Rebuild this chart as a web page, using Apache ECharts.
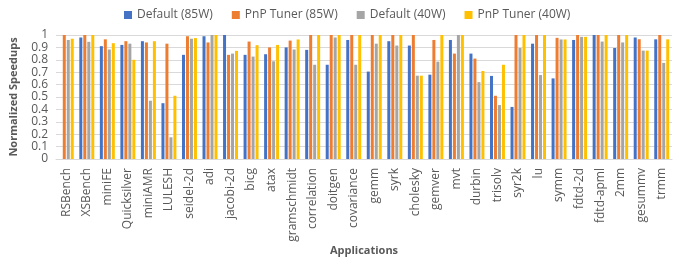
<!DOCTYPE html>
<html>
<head>
<meta charset="utf-8">
<script src="https://cdn.jsdelivr.net/npm/echarts@6/dist/echarts.min.js"></script>
<style>
  html, body { margin: 0; padding: 0; background: #fff; }
  #myChart { width: 689px; height: 261px; }
</style>
</head>
<body>
<div id="myChart"></div>
<script>
var apps = ['RSBench', 'XSBench', 'miniFE', 'Quicksilver', 'miniAMR', 'LULESH', 'seidel-2d', 'adi', 'jacobi-2d', 'bicg',
    'atax', 'gramschmidt', 'correlation', 'doitgen', 'covariance', 'gemm', 'syrk', 'cholesky', 'gemver', 'mvt',
    'durbin', 'trisolv', 'syr2k', 'lu', 'symm', 'fdtd-2d', 'fdtd-apml', '2mm', 'gesummv', 'trmm'];

var default85 = [null, 0.98, 0.91, 0.92, 0.95, 0.45, 0.84, 0.99, 1.0, 0.84,
    0.845, 0.90, 0.88, 0.76, 0.96, 0.705, 0.95, 0.915, 0.68, 0.96,
    0.85, 0.67, 0.42, 0.93, 0.65, 0.96, 1.0, 0.895, 0.98, 0.965];
var tuner85 = [1.0, 1.0, 0.965, 0.95, 0.94, 0.93, 0.99, 0.94, 0.84, 0.947,
    0.90, 0.955, 1.0, 1.0, 1.0, 1.0, 1.0, 1.0, 0.96, 0.85,
    0.81, 0.51, 1.0, 1.0, 0.977, 1.0, 1.0, 1.0, 0.966, 1.0];
var default40 = [0.96, 0.945, 0.883, 0.93, 0.47, 0.175, 0.97, 1.0, 0.85, 0.826,
    0.788, 0.883, 0.76, 0.98, 0.76, 0.93, 0.915, 0.672, 0.785, 1.0,
    0.62, 0.435, 0.895, 0.677, 0.964, 0.985, 0.947, 0.94, 0.874, 0.775];
var tuner40 = [0.97, 1.0, 0.934, 0.80, 0.95, 0.51, 0.975, 1.0, 0.872, 0.918,
    0.92, 0.964, 1.0, 1.0, 1.0, 1.0, 1.0, 0.672, 1.0, 1.0,
    0.71, 0.76, 1.0, 1.0, 0.964, 0.985, 1.0, 1.0, 0.874, 0.965];

var seriesNames = ['Default (85W)', 'PnP Tuner (85W)', 'Default (40W)', 'PnP Tuner (40W)'];
var seriesColors = ['#4472c4', '#ed7d31', '#a5a5a5', '#ffc000'];
var seriesData = [default85, tuner85, default40, tuner40];

var font = 'Open Sans';
var myChart = echarts.init(document.getElementById('myChart'));

var series = [];
for (var i = 0; i < seriesNames.length; i++) {
    series.push({
        name: seriesNames[i],
        type: 'bar',
        barWidth: 3,
        barGap: '33%',
        itemStyle: { color: seriesColors[i] },
        data: seriesData[i]
    });
}

var option = {
    animation: false,
    textStyle: { fontFamily: font },
    legend: {
        top: 4,
        left: 119,
        itemWidth: 8,
        itemHeight: 8,
        itemGap: 19,
        icon: 'rect',
        textStyle: { color: '#595959', fontSize: 12, fontFamily: font },
        data: seriesNames
    },
    grid: {
        left: 55,
        right: 17,
        top: 35,
        bottom: 102
    },
    xAxis: {
        type: 'category',
        data: apps,
        name: 'Applications',
        nameLocation: 'middle',
        nameGap: 86,
        nameTextStyle: { color: '#595959', fontSize: 11, fontWeight: 'bold', fontFamily: font },
        axisLine: { show: true, lineStyle: { color: '#d9d9d9' } },
        axisTick: { show: false },
        axisLabel: {
            rotate: 90,
            interval: 0,
            color: '#595959',
            fontSize: 12,
            fontFamily: font,
            margin: 9
        }
    },
    yAxis: {
        type: 'value',
        min: 0,
        max: 1,
        interval: 0.1,
        name: 'Normalized Speedups',
        nameLocation: 'middle',
        nameGap: 37,
        nameTextStyle: { color: '#595959', fontSize: 11, fontWeight: 'bold', fontFamily: font },
        axisLine: { show: false },
        axisTick: { show: false },
        splitLine: { show: true, lineStyle: { color: '#d9d9d9', type: 'solid' } },
        axisLabel: {
            color: '#595959',
            fontSize: 12,
            fontFamily: font,
            formatter: function (v) { return Math.round(v * 10) / 10 + ''; }
        }
    },
    series: series
};
myChart.setOption(option, true);
</script>
</body>
</html>
